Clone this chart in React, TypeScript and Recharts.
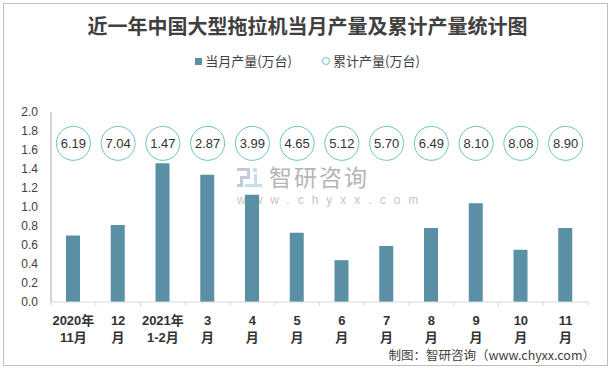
import React from 'react';
import { ComposedChart, Bar, Line, XAxis, YAxis } from 'recharts';

const labelTop = ['2020年', '12', '2021年', '3', '4', '5', '6', '7', '8', '9', '10', '11'];
const labelBottom = ['11月', '月', '1-2月', '月', '月', '月', '月', '月', '月', '月', '月', '月'];
const monthly = [0.70, 0.81, 1.46, 1.34, 1.13, 0.73, 0.44, 0.59, 0.78, 1.04, 0.55, 0.78];
const cumulative = ['6.19', '7.04', '1.47', '2.87', '3.99', '4.65', '5.12', '5.70', '6.49', '8.10', '8.08', '8.90'];
const bubbleRow = [1.67, 1.67, 1.67, 1.67, 1.67, 1.67, 1.67, 1.67, 1.67, 1.67, 1.67, 1.67];
const yTicks = [0, 0.2, 0.4, 0.6, 0.8, 1.0, 1.2, 1.4, 1.6, 1.8, 2.0];

const data = labelTop.map((t, i) => ({
  cat: t + ' ' + labelBottom[i],
  monthly: monthly[i],
  bubble: bubbleRow[i],
}));

const W = 615;
const H = 369;
const M = { top: 112, right: 27, bottom: 27, left: 0 };
const Y_W = 51;
const BAND = (W - M.right - M.left - Y_W) / labelTop.length;

const FONT = "'Liberation Sans', 'Noto Sans CJK SC', sans-serif";
const CJK = "'Noto Sans CJK SC', sans-serif";

const XTick = (props: any) => {
  const { x, y, index } = props;
  const i = index;
  const left = x - BAND / 2;
  return (
    <g>
      <line x1={left} y1={y} x2={left} y2={y + 4} stroke="#d9d9d9" />
      {i === labelTop.length - 1 && (
        <line x1={x + BAND / 2} y1={y} x2={x + BAND / 2} y2={y + 4} stroke="#d9d9d9" />
      )}
      <text x={x} y={y + 23} textAnchor="middle" fontSize={13} fontWeight={700} fill="#333" fontFamily={FONT}>
        {labelTop[i]}
      </text>
      <text x={x} y={y + 40} textAnchor="middle" fontSize={13} fontWeight={700} fill="#333" fontFamily={FONT}>
        {labelBottom[i]}
      </text>
    </g>
  );
};

const BubbleDot = (props: any) => {
  const { cx, cy, index } = props;
  return (
    <g key={'b' + index}>
      <circle cx={cx} cy={cy} r={17} fill="#fff" stroke="#6cc5bd" strokeWidth={1} />
      <text x={cx} y={cy + 4.5} textAnchor="middle" fontSize={13} fill="#333" fontFamily={FONT}>
        {cumulative[index]}
      </text>
    </g>
  );
};

const Logo = () => (
  <svg width={25} height={20} style={{ position: 'absolute', left: 1, top: 12 }}>
    <g fill="#c3cadf">
      <rect x={0} y={0} width={13} height={3} />
      <rect x={10} y={0} width={3} height={10} />
      <rect x={3} y={8} width={10} height={3} />
      <rect x={3} y={8} width={3} height={9} />
      <rect x={0} y={16} width={6} height={3} />
    </g>
    <g fill="#c6def0">
      <rect x={16} y={0} width={4} height={4} />
      <rect x={17} y={6} width={3} height={13} />
      <rect x={8} y={16} width={17} height={3} />
    </g>
  </svg>
);

export default function App() {
  return (
    <div style={{ position: 'fixed', left: 0, top: 0, width: W, height: H, background: '#fff', fontFamily: FONT }}>
      <div style={{ position: 'absolute', left: 3, top: 3, width: 603, height: 361, border: '1px solid #bfbfbf' }} />
      <div style={{ position: 'absolute', left: 0, top: 12, width: W, textAlign: 'center', fontSize: 20, fontWeight: 700, color: '#404040', fontFamily: CJK, lineHeight: '28px' }}>
        近一年中国大型拖拉机当月产量及累计产量统计图
      </div>
      <div style={{ position: 'absolute', left: 0, top: 51, width: W, display: 'flex', justifyContent: 'center', fontSize: 13, color: '#404040', fontFamily: CJK, lineHeight: '20px' }}>
        <span style={{ display: 'flex', alignItems: 'center', marginRight: 30 }}>
          <span style={{ width: 7, height: 7, background: '#5b8fa6', marginRight: 3 }} />
          当月产量(万台)
        </span>
        <span style={{ display: 'flex', alignItems: 'center' }}>
          <span style={{ width: 6, height: 6, border: '1px solid #6cc5bd', borderRadius: '50%', marginRight: 3 }} />
          累计产量(万台)
        </span>
      </div>
      <div style={{ position: 'absolute', left: 236, top: 156, width: 160, height: 60, pointerEvents: 'none' }}>
        <Logo />
        <div style={{ position: 'absolute', left: 33, top: 10, fontSize: 23, lineHeight: '20px', color: '#b5b5b5', fontFamily: CJK, letterSpacing: 2 }}>
          智研咨询
        </div>
        <div style={{ position: 'absolute', left: 1, top: 38, fontSize: 12, lineHeight: '12px', color: '#c4c4c4', fontFamily: FONT, letterSpacing: 8 }}>
          www.chyxx.com
        </div>
      </div>
      <div style={{ position: 'absolute', right: 20, top: 347, fontSize: 12.5, color: '#404040', fontFamily: CJK, lineHeight: '16px' }}>
        制图：智研咨询（www.chyxx.com）
      </div>
      <div style={{ position: 'absolute', left: 0, top: 0 }}>
        <ComposedChart width={W} height={H} data={data} margin={M} barSize={14}>
          <XAxis
            dataKey="cat"
            axisLine={{ stroke: '#d9d9d9' }}
            tickLine={false}
            tickSize={0}
            tickMargin={0}
            tick={<XTick />}
            interval={0}
            height={40}
          />
          <YAxis
            domain={[0, 2]}
            ticks={yTicks}
            width={Y_W}
            axisLine={{ stroke: '#a6a6a6' }}
            tickLine={false}
            tickSize={6}
            tickMargin={7}
            tick={{ fontSize: 12, fill: '#404040', fontFamily: FONT }}
            tickFormatter={(v: number) => v.toFixed(1)}
            interval={0}
          />
          <Bar dataKey="monthly" fill="#5b8fa6" isAnimationActive={false} />
          <Line dataKey="bubble" stroke="none" isAnimationActive={false} dot={<BubbleDot />} activeDot={false} />
        </ComposedChart>
      </div>
    </div>
  );
}
